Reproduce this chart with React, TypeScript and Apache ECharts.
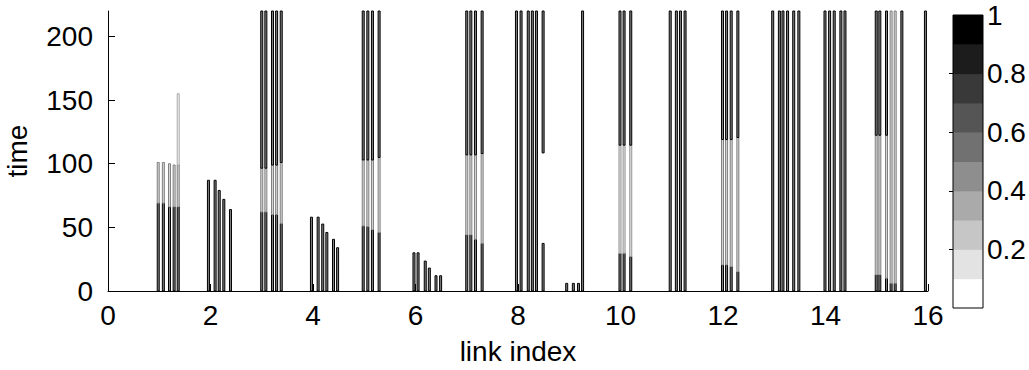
import React, { useEffect, useRef } from "react";
import * as echarts from "echarts";

type Seg = [number, number, number, number]; // [link index, time from, time to, value]

const xTicks = [0, 2, 4, 6, 8, 10, 12, 14, 16];
const yTicks = [0, 50, 100, 150, 200];
const colorbarTicks = [0.2, 0.4, 0.6, 0.8, 1];
const colorbarLevels = [0, 1, 2, 3, 4, 5, 6, 7, 8, 9];
const TMAX = 220;

const group1: Seg[] = [
  [0.98, 0, 69, 1], [0.98, 69, 101, 0.3],
  [1.08, 0, 69, 1], [1.08, 69, 101, 0.3],
  [1.2, 0, 66, 1], [1.2, 66, 100, 0.3],
  [1.29, 0, 66, 1], [1.29, 66, 99, 0.3],
  [1.37, 0, 66, 1], [1.37, 66, 99, 0.3], [1.37, 99, 155, 0.12],
];
const group2: Seg[] = [
  [1.96, 0, 87, 1], [2.09, 0, 87, 1], [2.17, 0, 79, 1], [2.26, 0, 72, 1], [2.39, 0, 64, 1],
];
const group3: Seg[] = [
  [3.0, 0, 62, 1], [3.0, 62, 96.5, 0.3], [3.0, 96.5, 220, 1],
  [3.08, 0, 62, 1], [3.08, 62, 96.5, 0.3], [3.08, 96.5, 220, 1],
  [3.21, 0, 60, 1], [3.21, 60, 99, 0.3], [3.21, 99, 220, 1],
  [3.29, 0, 60, 1], [3.29, 60, 99, 0.3], [3.29, 99, 220, 1],
  [3.38, 0, 53, 1], [3.38, 53, 101, 0.3], [3.38, 101, 220, 1],
];
const group4: Seg[] = [
  [3.97, 0, 58, 1], [4.1, 0, 58, 1], [4.19, 0, 52.6, 1], [4.27, 0, 46, 1], [4.4, 0, 40.6, 1], [4.48, 0, 34, 1],
];
const group5: Seg[] = [
  [4.98, 0, 51, 1], [4.98, 51, 103, 0.35], [4.98, 103, 220, 1],
  [5.07, 0, 50.5, 1], [5.07, 50.5, 103, 0.35], [5.07, 103, 220, 1],
  [5.16, 0, 48, 1], [5.16, 48, 103, 0.35], [5.16, 103, 220, 1],
  [5.29, 0, 46, 1], [5.29, 46, 105, 0.35], [5.29, 105, 220, 1],
];
const group6: Seg[] = [
  [5.97, 0, 30, 1], [6.05, 0, 30, 1], [6.19, 0, 23.5, 1], [6.27, 0, 18, 1], [6.4, 0, 12, 1], [6.49, 0, 12, 1],
];
const group7: Seg[] = [
  [7.0, 0, 44, 1], [7.0, 44, 107, 0.35], [7.0, 107, 220, 1],
  [7.08, 0, 44, 1], [7.08, 44, 107, 0.35], [7.08, 107, 220, 1],
  [7.17, 0, 40.6, 1], [7.17, 40.6, 107, 0.35], [7.17, 107, 220, 1],
  [7.3, 0, 37.4, 1], [7.3, 37.4, 108, 0.35], [7.3, 108, 220, 1],
];
const group8: Seg[] = [
  [7.97, 0, 220, 1], [8.06, 0, 220, 1], [8.2, 0, 220, 1], [8.28, 0, 220, 1], [8.36, 0, 220, 1],
  [8.49, 0, 37.4, 1], [8.49, 108.5, 220, 1],
];
const group9: Seg[] = [
  [8.95, 0, 6, 1], [9.08, 0, 6, 1], [9.18, 0, 6, 1], [9.26, 0, 220, 1],
];
const group10: Seg[] = [
  [9.99, 0, 29.6, 1], [9.99, 29.6, 114.6, 0.2], [9.99, 114.6, 220, 1],
  [10.07, 0, 29.6, 1], [10.07, 29.6, 114.6, 0.2], [10.07, 114.6, 220, 1],
  [10.2, 0, 27, 1], [10.2, 27, 114.6, 0.2], [10.2, 114.6, 220, 1],
];
const group11: Seg[] = [
  [10.97, 0, 220, 1], [11.09, 0, 220, 1], [11.17, 0, 220, 1], [11.26, 0, 220, 1],
];
const group12: Seg[] = [
  [11.99, 0, 20.4, 1], [11.99, 20.4, 119, 0.35], [11.99, 119, 220, 1],
  [12.07, 0, 20.4, 1], [12.07, 20.4, 119, 0.35], [12.07, 119, 220, 1],
  [12.16, 0, 19, 1], [12.16, 19, 119, 0.35], [12.16, 119, 220, 1],
  [12.29, 0, 15, 1], [12.29, 15, 120.6, 0.35], [12.29, 120.6, 220, 1],
];
const group13: Seg[] = [
  [12.97, 0, 220, 1], [13.1, 0, 220, 1], [13.17, 0, 220, 1], [13.26, 0, 220, 1], [13.38, 0, 220, 1], [13.48, 0, 220, 1],
];
const group14: Seg[] = [
  [13.99, 0, 220, 1], [14.08, 0, 220, 1], [14.17, 0, 220, 1], [14.3, 0, 220, 1], [14.38, 0, 220, 1],
];
const group15: Seg[] = [
  [14.99, 0, 12.6, 1], [14.99, 12.6, 122.4, 0.35], [14.99, 122.4, 220, 1],
  [15.06, 0, 12.6, 1], [15.06, 12.6, 122.4, 0.35], [15.06, 122.4, 220, 1],
  [15.19, 0, 10, 1], [15.19, 10, 122.4, 0.35], [15.19, 122.4, 220, 1],
  [15.28, 0, 6, 1], [15.28, 6, 220, 0.35],
  [15.36, 0, 6, 1], [15.36, 6, 220, 0.35],
  [15.49, 0, 220, 1],
];
const group16: Seg[] = [[15.95, 0, 220, 1]];

const allSegments: Seg[] = [
  ...group1, ...group2, ...group3, ...group4, ...group5, ...group6, ...group7, ...group8,
  ...group9, ...group10, ...group11, ...group12, ...group13, ...group14, ...group15,
];

const FONT = "'Liberation Sans', Arial, Helvetica, sans-serif";
const FS = 28;

function levelGray(idx: number): number {
  return Math.round(255 * (1 - idx / 9));
}
function valueLevel(v: number): number {
  return Math.max(0, Math.min(9, Math.floor(v * 10)));
}
function rgb(g: number): string {
  const c = Math.max(0, Math.min(255, Math.round(g)));
  return `rgb(${c},${c},${c})`;
}

function renderSeg(params: any, api: any) {
  const x = api.value(0);
  const t0 = api.value(1);
  const t1 = api.value(2);
  const v = api.value(3);
  const p0 = api.coord([x, t0]);
  const p1 = api.coord([x, t1]);
  const g = levelGray(valueLevel(v));
  const edge = g * 0.75;
  const center = g + (255 - g) * 0.5;
  return {
    type: "rect",
    shape: { x: p0[0] - 1, y: p1[1], width: 2, height: p0[1] - p1[1] },
    style: { fill: rgb(center), stroke: rgb(edge), lineWidth: 1 },
  };
}

export default function App() {
  const ref = useRef<HTMLDivElement>(null);
  useEffect(() => {
    if (!ref.current) return;
    const chart = echarts.init(ref.current, undefined, { renderer: "svg" });
    const barData = colorbarLevels.map((i) => [i / 10, (i + 1) / 10, i]);
    barData.push([0, 1, -1]);
    chart.setOption({
      animation: false,
      backgroundColor: "#fff",
      textStyle: { fontFamily: FONT },
      grid: [
        { left: 108, width: 820, top: 11, height: 280, containLabel: false, outerBoundsMode: "none" },
        { left: 953, width: 30, top: 15, height: 293, containLabel: false, outerBoundsMode: "none" },
      ],
      xAxis: [
        {
          gridIndex: 0,
          type: "value",
          min: 0,
          max: 16,
          interval: 2,
          name: "link index",
          nameLocation: "middle",
          nameGap: 46,
          nameTextStyle: { fontSize: FS, color: "#000", fontFamily: FONT },
          axisLine: { show: true, onZero: false, lineStyle: { color: "#000", width: 1 } },
          axisTick: { show: true, inside: true, length: 7, lineStyle: { color: "#000" }, customValues: xTicks },
          axisLabel: { fontSize: FS, color: "#000", margin: 10, fontFamily: FONT, customValues: xTicks },
          splitLine: { show: false },
        },
        { gridIndex: 1, type: "value", min: 0, max: 1, show: false },
      ],
      yAxis: [
        {
          gridIndex: 0,
          type: "value",
          min: 0,
          max: TMAX,
          name: "time",
          nameLocation: "middle",
          nameGap: 77,
          nameTextStyle: { fontSize: FS, color: "#000", fontFamily: FONT },
          axisLine: { show: true, onZero: false, lineStyle: { color: "#000", width: 1 } },
          axisTick: { show: true, inside: true, length: 7, lineStyle: { color: "#000" }, customValues: yTicks },
          axisLabel: { fontSize: FS, color: "#000", margin: 15, fontFamily: FONT, customValues: yTicks },
          splitLine: { show: false },
        },
        {
          gridIndex: 1,
          type: "value",
          min: 0,
          max: 1,
          position: "right",
          axisLine: { show: false },
          axisTick: { show: true, inside: true, length: 4, lineStyle: { color: "#000" }, customValues: colorbarTicks.slice(0, 4) },
          axisLabel: { fontSize: FS, color: "#000", margin: 4, fontFamily: FONT, customValues: colorbarTicks },
          splitLine: { show: false },
        },
      ],
      series: [
        {
          type: "custom",
          xAxisIndex: 0,
          yAxisIndex: 0,
          clip: false,
          z: 3,
          data: allSegments,
          renderItem: renderSeg,
        },
        {
          type: "custom",
          xAxisIndex: 0,
          yAxisIndex: 0,
          clip: false,
          z: 4,
          data: group16,
          renderItem: renderSeg,
        },
        {
          type: "custom",
          xAxisIndex: 1,
          yAxisIndex: 1,
          data: barData,
          renderItem: (params: any, api: any) => {
            const lo = api.value(0);
            const hi = api.value(1);
            const idx = api.value(2);
            const a = api.coord([0, hi]);
            const b = api.coord([1, lo]);
            if (idx < 0) {
              return {
                type: "rect",
                shape: { x: a[0], y: a[1], width: b[0] - a[0], height: b[1] - a[1] },
                style: { fill: "none", stroke: "#000", lineWidth: 1 },
                z2: 10,
              };
            }
            return {
              type: "rect",
              shape: { x: a[0], y: a[1], width: b[0] - a[0], height: b[1] - a[1] + 0.5 },
              style: { fill: rgb(levelGray(idx)) },
            };
          },
        },
      ],
    });
    return () => chart.dispose();
  }, []);
  return (
    <div
      ref={ref}
      style={{ position: "fixed", left: 0, top: 0, width: 1029, height: 370, background: "#fff" }}
    />
  );
}
